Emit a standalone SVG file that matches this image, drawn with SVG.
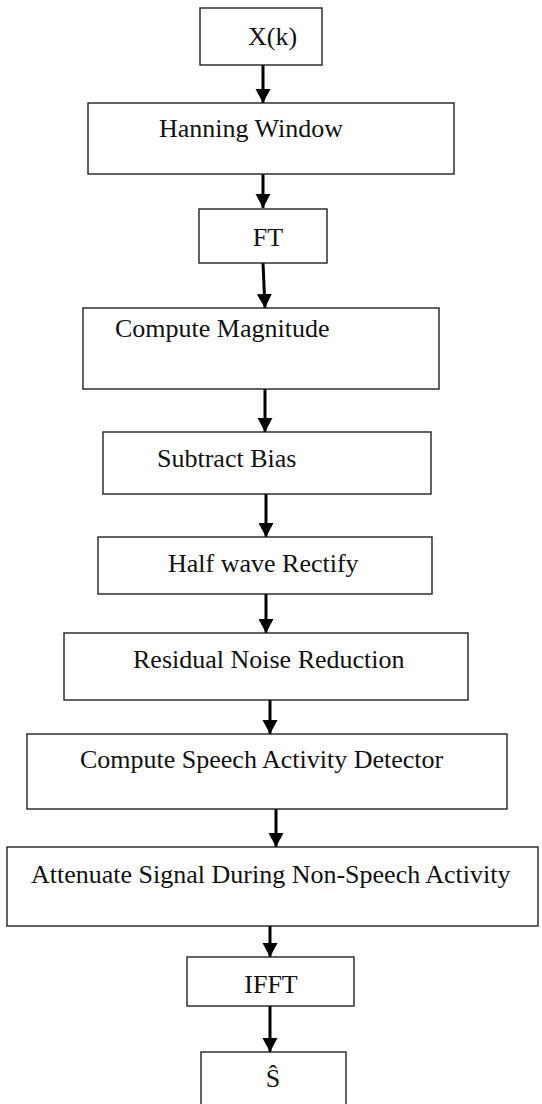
<svg xmlns="http://www.w3.org/2000/svg" width="542" height="1104" viewBox="0 0 542 1104">
<style>
.box{fill:#fff;stroke:#222;stroke-width:1.4}
.lbl{font-family:"Liberation Serif","Times New Roman",serif;font-size:26px;fill:#111}
.c{text-anchor:middle}
.arr{stroke:#000;stroke-width:3;fill:none;marker-end:url(#ah)}
</style>
<defs>
<marker id="ah" markerUnits="userSpaceOnUse" markerWidth="16" markerHeight="16" refX="14" refY="7.5" orient="auto">
<path d="M0,0 L14,7.5 L0,15 Z" fill="#000"/>
</marker>
</defs>
<rect width="542" height="1104" fill="#fff"/>
<g id="connectors">
<line class="arr" x1="263" y1="65" x2="263" y2="103"/>
<line class="arr" x1="263" y1="174" x2="263" y2="208"/>
<line class="arr" x1="263" y1="263" x2="265" y2="308"/>
<line class="arr" x1="265" y1="389" x2="265" y2="432"/>
<line class="arr" x1="266" y1="494" x2="266" y2="537"/>
<line class="arr" x1="266" y1="594" x2="266" y2="633"/>
<line class="arr" x1="270" y1="700" x2="270" y2="734"/>
<line class="arr" x1="276" y1="809" x2="276" y2="847"/>
<line class="arr" x1="270" y1="926" x2="270" y2="957"/>
<line class="arr" x1="270" y1="1006" x2="270" y2="1052"/>
</g>
<g id="xk"><rect class="box" x="200" y="8" width="122" height="57"/><text class="lbl" x="248" y="45">X(k)</text></g>
<g id="hanning"><rect class="box" x="88" y="103" width="366" height="71"/><text class="lbl" x="159" y="137">Hanning Window</text></g>
<g id="ft"><rect class="box" x="199" y="209" width="128" height="54"/><text class="lbl c" x="268" y="246">FT</text></g>
<g id="magnitude"><rect class="box" x="83" y="308" width="356" height="81"/><text class="lbl" x="115" y="337">Compute Magnitude</text></g>
<g id="bias"><rect class="box" x="103" y="432" width="328" height="62"/><text class="lbl" x="157" y="467">Subtract Bias</text></g>
<g id="rectify"><rect class="box" x="98" y="537" width="334" height="57"/><text class="lbl" x="168" y="572">Half wave Rectify</text></g>
<g id="residual"><rect class="box" x="64" y="633" width="404" height="67"/><text class="lbl" x="133" y="668">Residual Noise Reduction</text></g>
<g id="sad"><rect class="box" x="27" y="734" width="480" height="75"/><text class="lbl" x="80" y="768">Compute Speech Activity Detector</text></g>
<g id="attenuate"><rect class="box" x="7" y="847" width="531" height="79"/><text class="lbl" x="31" y="883">Attenuate Signal During Non-Speech Activity</text></g>
<g id="ifft"><rect class="box" x="187" y="957" width="167" height="49"/><text class="lbl c" x="271" y="993">IFFT</text></g>
<g id="shat"><rect class="box" x="201" y="1052" width="145" height="60"/><text class="lbl c" x="273" y="1087">Ŝ</text></g>
</svg>
